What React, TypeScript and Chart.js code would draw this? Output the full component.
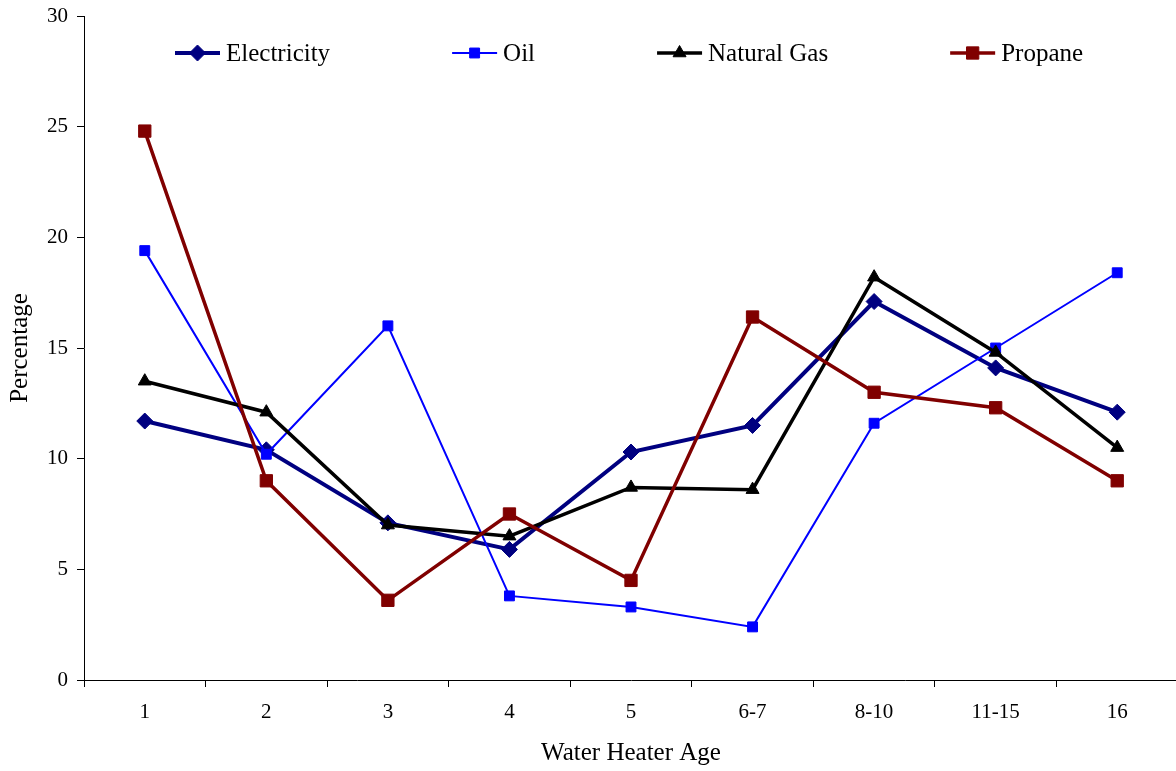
import React, { useEffect, useRef } from 'react';
import { Chart, registerables } from 'chart.js';

Chart.register(...registerables);

const categories = ['1', '2', '3', '4', '5', '6-7', '8-10', '11-15', '16'];
const electricity = [11.7, 10.4, 7.1, 5.9, 10.3, 11.5, 17.1, 14.1, 12.1];
const oil = [19.4, 10.2, 16.0, 3.8, 3.3, 2.4, 11.6, 15.0, 18.4];
const naturalGas = [13.5, 12.1, 7.0, 6.5, 8.7, 8.6, 18.2, 14.8, 10.5];
const propane = [24.8, 9.0, 3.6, 7.5, 4.5, 16.4, 13.0, 12.3, 9.0];
const yTicks = [0, 5, 10, 15, 20, 25, 30];

const FONT = "'Liberation Serif', 'Times New Roman', serif";

function drawMarker(ctx: CanvasRenderingContext2D, style: string, x: number, y: number, r: number, color: string) {
  ctx.save();
  ctx.fillStyle = color;
  ctx.strokeStyle = color;
  ctx.lineWidth = 1;
  ctx.beginPath();
  if (style === 'rectRot') {
    ctx.moveTo(x - r, y);
    ctx.lineTo(x, y - r);
    ctx.lineTo(x + r, y);
    ctx.lineTo(x, y + r);
  } else if (style === 'rect') {
    const s = r * Math.SQRT1_2;
    ctx.rect(x - s, y - s, 2 * s, 2 * s);
  } else if (style === 'triangle') {
    let a = 0;
    ctx.moveTo(x + Math.sin(a) * r, y - Math.cos(a) * r);
    a += (2 * Math.PI) / 3;
    ctx.lineTo(x + Math.sin(a) * r, y - Math.cos(a) * r);
    a += (2 * Math.PI) / 3;
    ctx.lineTo(x + Math.sin(a) * r, y - Math.cos(a) * r);
  }
  ctx.closePath();
  ctx.fill();
  ctx.stroke();
  ctx.restore();
}

const legendPlugin = {
  id: 'customLegend',
  afterDraw(chart: any) {
    const ctx: CanvasRenderingContext2D = chart.ctx;
    const y = 53;
    let x = 175;
    const lineLen = 45;
    const textGap = 6;
    const itemGap = 122;
    ctx.save();
    ctx.font = `25px ${FONT}`;
    ctx.textBaseline = 'middle';
    ctx.textAlign = 'left';
    chart.data.datasets.forEach((ds: any) => {
      ctx.strokeStyle = ds.borderColor;
      ctx.lineWidth = ds.borderWidth;
      ctx.beginPath();
      ctx.moveTo(x, y);
      ctx.lineTo(x + lineLen, y);
      ctx.stroke();
      drawMarker(ctx, ds.pointStyle, x + lineLen / 2, y, ds.pointRadius, ds.pointBackgroundColor);
      ctx.fillStyle = '#000';
      const tx = x + lineLen + textGap;
      ctx.fillText(ds.label, tx, y + 1);
      x = tx + ctx.measureText(ds.label).width + itemGap;
    });
    ctx.restore();
  },
};

export default function App() {
  const ref = useRef<HTMLCanvasElement | null>(null);

  useEffect(() => {
    if (!ref.current) return;
    const mk = (label: string, data: number[], color: string, width: number, style: string, radius: number, order: number) => ({
      label,
      data,
      borderColor: color,
      backgroundColor: color,
      borderWidth: width,
      pointStyle: style,
      pointRadius: radius,
      pointBackgroundColor: color,
      pointBorderColor: color,
      pointBorderWidth: 1,
      pointHoverRadius: radius,
      tension: 0,
      fill: false,
      clip: false,
      order,
    });
    const chart = new Chart(ref.current, {
      type: 'line',
      data: {
        labels: categories,
        datasets: [
          mk('Electricity', electricity, '#000080', 4, 'rectRot', 8, 4),
          mk('Oil', oil, '#0000FF', 2, 'rect', 7, 3),
          mk('Natural Gas', naturalGas, '#000000', 3.5, 'triangle', 7.5, 2),
          mk('Propane', propane, '#800000', 3.5, 'rect', 8.7, 1),
        ] as any,
      },
      options: {
        responsive: false,
        animation: false,
        events: [],
        layout: { autoPadding: false, padding: { top: 16, right: 2, left: 0, bottom: 0 } },
        plugins: {
          legend: { display: false },
          tooltip: { enabled: false },
        },
        scales: {
          x: {
            type: 'category',
            offset: true,
            grid: {
              offset: true,
              drawOnChartArea: false,
              drawTicks: true,
              tickLength: 7,
              color: '#000',
              lineWidth: 1,
            },
            border: { display: true, color: '#000', width: 1 },
            ticks: {
              color: '#000',
              font: { family: FONT, size: 21 },
              padding: 13,
              maxRotation: 0,
              autoSkip: false,
            },
            title: {
              display: true,
              text: 'Water Heater Age',
              color: '#000',
              font: { family: FONT, size: 25 },
              padding: { top: 0, bottom: 3 },
            },
            afterFit: (s: any) => {
              s.height = 91;
              s.paddingLeft = 0;
              s.paddingRight = 0;
            },
          },
          y: {
            type: 'linear',
            min: 0,
            max: 30,
            afterBuildTicks: (s: any) => {
              s.ticks = yTicks.map((v) => ({ value: v }));
            },
            ticks: {
              color: '#000',
              font: { family: FONT, size: 21 },
              padding: 9,
            },
            grid: {
              drawOnChartArea: false,
              drawTicks: true,
              tickLength: 7,
              color: '#000',
              lineWidth: 1,
            },
            border: { display: true, color: '#000', width: 1 },
            title: {
              display: true,
              text: 'Percentage',
              color: '#000',
              font: { family: FONT, size: 25 },
              padding: { top: 5, bottom: 0 },
            },
            afterFit: (s: any) => {
              s.width = 84;
              s.paddingTop = 0;
              s.paddingBottom = 0;
            },
          },
        },
      } as any,
      plugins: [legendPlugin],
    });
    return () => chart.destroy();
  }, []);

  return (
    <div
      style={{
        position: 'fixed',
        left: 0,
        top: 0,
        width: 1176,
        height: 771,
        overflow: 'hidden',
        background: '#fff',
      }}
    >
      <canvas ref={ref} width={1180} height={771} style={{ display: 'block', width: 1180, height: 771 }} />
    </div>
  );
}
